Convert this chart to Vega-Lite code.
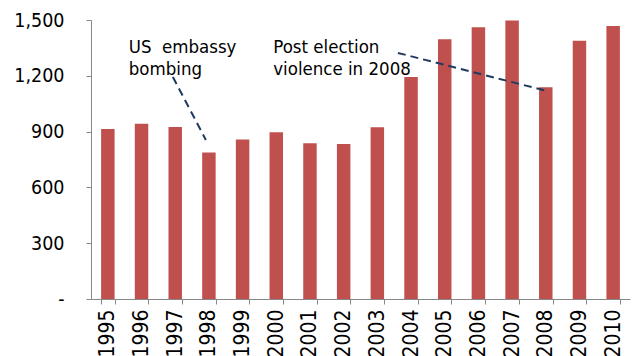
{
  "$schema": "https://vega.github.io/schema/vega-lite/v6.json",
  "autosize": {"type": "none"},
  "width": 539,
  "height": 279,
  "padding": {"left": 91, "top": 20, "right": 5, "bottom": 57},
  "background": "white",
  "config": {"view": {"stroke": null}, "font": "DejaVu Sans Condensed"},
  "datasets": {
    "bars": [
      {"year": "1995", "value": 914},
      {"year": "1996", "value": 942},
      {"year": "1997", "value": 925},
      {"year": "1998", "value": 787},
      {"year": "1999", "value": 857},
      {"year": "2000", "value": 896},
      {"year": "2001", "value": 837},
      {"year": "2002", "value": 833},
      {"year": "2003", "value": 923},
      {"year": "2004", "value": 1194},
      {"year": "2005", "value": 1396},
      {"year": "2006", "value": 1461},
      {"year": "2007", "value": 1497},
      {"year": "2008", "value": 1138},
      {"year": "2009", "value": 1389},
      {"year": "2010", "value": 1468}
    ],
    "notes": [
      {"label": "US\u00a0 embassy", "xq": 1995.62, "yv": 1323},
      {"label": "bombing", "xq": 1995.62, "yv": 1205},
      {"label": "Post election", "xq": 1999.91, "yv": 1323},
      {"label": "violence in 2008", "xq": 1999.91, "yv": 1205}
    ],
    "lines": [
      {"id": "a", "xq": 1996.93, "yv": 1194},
      {"id": "a", "xq": 1997.91, "yv": 855},
      {"id": "b", "xq": 2003.61, "yv": 1323},
      {"id": "b", "xq": 2008.04, "yv": 1118}
    ]
  },
  "layer": [
    {
      "data": {"name": "bars"},
      "mark": {"type": "bar", "color": "#C0504D"},
      "encoding": {
        "x": {
          "field": "year", "type": "nominal",
          "scale": {"paddingInner": 0.6, "paddingOuter": 0.3},
          "axis": {
            "title": null, "labelAngle": -90, "labelFontSize": 21, "labelColor": "#000",
            "tickBand": "extent", "tickSize": 5, "tickColor": "#888", "domainColor": "#888",
            "labelPadding": 5
          }
        },
        "y": {
          "field": "value", "type": "quantitative",
          "scale": {"domain": [0, 1500], "nice": false},
          "axis": {
            "title": null, "values": [0, 300, 600, 900, 1200, 1500], "grid": false,
            "labelExpr": "datum.value == 0 ? '-' : format(datum.value, ',')",
            "labelFontSize": 19.5, "labelColor": "#000", "tickSize": 5, "tickColor": "#888",
            "domainColor": "#888", "labelPadding": 22
          }
        }
      }
    },
    {
      "data": {"name": "lines"},
      "mark": {"type": "line", "color": "#1F3A5F", "strokeWidth": 2, "strokeDash": [8, 5]},
      "encoding": {
        "x": {"field": "xq", "type": "quantitative", "scale": {"domain": [1994.5, 2010.5], "nice": false, "zero": false}, "axis": null},
        "y": {"field": "yv", "type": "quantitative"},
        "detail": {"field": "id"}
      }
    },
    {
      "data": {"name": "notes"},
      "mark": {"type": "text", "align": "left", "baseline": "alphabetic", "fontSize": 18.5, "color": "#000"},
      "encoding": {
        "x": {"field": "xq", "type": "quantitative", "scale": {"domain": [1994.5, 2010.5], "nice": false, "zero": false}, "axis": null},
        "y": {"field": "yv", "type": "quantitative"},
        "text": {"field": "label"}
      }
    }
  ],
  "resolve": {"scale": {"x": "independent"}, "axis": {"x": "independent"}}
}
